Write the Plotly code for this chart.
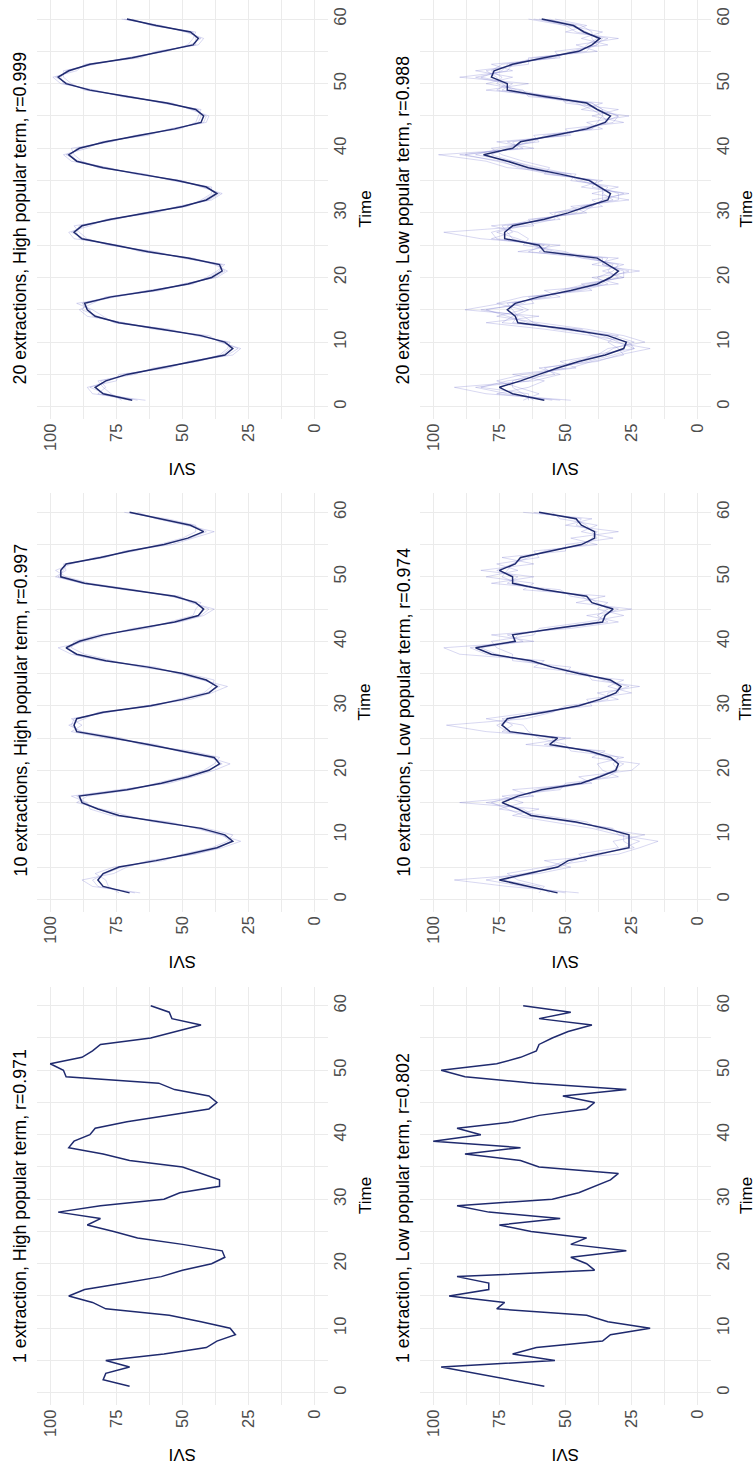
import plotly.graph_objects as go

# Time index (weeks) shared by all panels
TIME = list(range(1, 61))

# Single-extraction SVI series
HIGH_1 = [70, 80, 79, 70, 79, 57, 41, 37, 30, 32, 43, 55, 79, 84, 93, 87, 72, 58, 50, 39,
          34, 35, 50, 67, 76, 86, 81, 97, 81, 57, 51, 36, 36, 43, 50, 70, 80, 93, 91, 85,
          83, 71, 55, 40, 37, 40, 53, 59, 94, 95, 100, 88, 84, 81, 62, 52, 43, 54, 55, 62]
LOW_1 = [58, 71, 84, 97, 54, 70, 61, 36, 33, 18, 34, 42, 76, 73, 94, 79, 79, 91, 39, 42,
         48, 27, 48, 42, 63, 75, 52, 79, 91, 55, 45, 39, 33, 30, 60, 67, 88, 67, 100, 82,
         91, 70, 60, 42, 39, 51, 27, 62, 88, 97, 76, 67, 61, 60, 55, 49, 40, 60, 48, 66]

# Averages over 10 extractions
HIGH_10 = [70, 80, 82, 80, 74, 60, 48, 37, 31, 34, 43, 58, 74, 82, 88, 89, 71, 58, 48, 40,
           36, 38, 50, 63, 76, 90, 91, 90, 80, 62, 50, 40, 37, 41, 50, 63, 79, 90, 94, 89,
           80, 66, 53, 44, 42, 45, 53, 70, 87, 96, 96, 94, 81, 70, 57, 48, 42, 47, 58, 70]
LOW_10 = [53, 64, 75, 64, 53, 49, 38, 26, 26, 26, 35, 46, 63, 68, 74, 68, 59, 44, 37, 31,
          30, 33, 41, 56, 53, 71, 74, 72, 58, 45, 37, 31, 29, 33, 45, 55, 63, 78, 84, 69,
          70, 54, 36, 35, 32, 40, 42, 58, 70, 70, 75, 69, 67, 55, 44, 39, 39, 44, 46, 60]

# Averages over 20 extractions
HIGH_20 = [69, 80, 83, 79, 71, 58, 46, 34, 31, 34, 43, 58, 74, 83, 86, 87, 77, 61, 48, 39,
           35, 36, 48, 63, 76, 88, 91, 88, 77, 63, 50, 41, 37, 41, 52, 66, 80, 90, 93, 89,
           79, 66, 53, 43, 42, 45, 56, 71, 85, 94, 97, 93, 85, 69, 58, 46, 44, 47, 60, 71]
LOW_20 = [58, 70, 75, 67, 60, 53, 45, 35, 28, 27, 34, 49, 68, 69, 72, 69, 60, 48, 38, 33,
          30, 34, 38, 58, 60, 73, 73, 70, 58, 49, 42, 34, 33, 37, 41, 52, 64, 72, 81, 70,
          67, 54, 42, 35, 33, 38, 42, 58, 72, 72, 78, 77, 70, 58, 45, 40, 37, 43, 47, 59]

# Individual extractions drawn behind the averages
HIGH_10_RUNS = [
    [66, 84, 88, 76, 71, 63, 45, 35, 28, 36, 45, 55, 77, 85, 86, 92, 74, 55, 46, 38,
     32, 40, 52, 60, 79, 92, 88, 92, 78, 64, 47, 39, 33, 43, 52, 60, 81, 92, 97, 87,
     78, 69, 51, 42, 38, 47, 51, 72, 88, 98, 94, 95, 79, 72, 54, 46, 38, 49, 60, 67],
    [74, 78, 79, 83, 76, 57, 50, 39, 33, 31, 41, 61, 71, 80, 90, 86, 69, 60, 50, 42,
     38, 36, 47, 66, 73, 88, 93, 87, 82, 60, 52, 42, 39, 38, 48, 66, 77, 87, 92, 91,
     82, 63, 55, 46, 45, 43, 55, 68, 85, 94, 98, 92, 83, 68, 59, 50, 45, 45, 56, 72],
    [68, 82, 84, 79, 73, 61, 46, 36, 32, 35, 44, 57, 75, 82, 87, 90, 72, 57, 47, 41,
     35, 39, 51, 62, 77, 89, 92, 91, 79, 63, 50, 41, 36, 42, 50, 62, 80, 91, 93, 88,
     80, 67, 52, 43, 40, 46, 54, 70, 88, 97, 95, 94, 80, 71, 57, 47, 41, 46, 59, 70],
]
LOW_10_RUNS = [
    [45, 72, 92, 60, 48, 58, 30, 22, 15, 30, 40, 55, 70, 60, 90, 62, 70, 40, 45, 25,
     22, 40, 35, 65, 48, 80, 95, 65, 55, 50, 30, 38, 22, 40, 42, 62, 58, 90, 96, 62,
     78, 48, 30, 42, 25, 46, 35, 66, 62, 80, 68, 76, 60, 62, 38, 48, 30, 50, 40, 66],
    [60, 58, 68, 72, 58, 42, 45, 30, 32, 20, 38, 42, 58, 75, 66, 74, 52, 50, 30, 36,
     38, 28, 48, 50, 60, 64, 66, 80, 62, 40, 42, 25, 34, 28, 50, 48, 70, 70, 76, 78,
     62, 60, 42, 28, 38, 34, 48, 52, 78, 62, 82, 62, 74, 50, 50, 32, 44, 38, 52, 55],
    [50, 66, 80, 66, 52, 47, 40, 24, 28, 28, 33, 48, 66, 72, 78, 70, 56, 42, 38, 32,
     28, 35, 42, 54, 55, 72, 76, 70, 60, 44, 38, 30, 30, 34, 44, 56, 62, 80, 86, 70,
     68, 55, 38, 36, 30, 40, 44, 57, 72, 68, 76, 70, 66, 56, 44, 38, 40, 42, 47, 60],
    [56, 60, 74, 62, 56, 50, 36, 28, 22, 30, 32, 48, 62, 66, 80, 64, 62, 46, 34, 30,
     32, 30, 38, 58, 50, 74, 70, 74, 56, 46, 34, 34, 26, 36, 42, 54, 66, 76, 82, 66,
     72, 52, 34, 38, 34, 38, 42, 60, 68, 74, 72, 70, 64, 58, 42, 40, 38, 46, 44, 62],
]
HIGH_20_RUNS = [
    [64, 84, 86, 75, 74, 55, 48, 31, 28, 36, 40, 61, 72, 86, 89, 84, 79, 58, 50, 37,
     33, 38, 46, 66, 74, 91, 93, 85, 79, 60, 52, 39, 35, 43, 50, 68, 78, 92, 95, 86,
     81, 63, 55, 41, 40, 47, 54, 73, 83, 96, 99, 90, 87, 66, 60, 44, 42, 49, 58, 73],
    [73, 77, 80, 82, 68, 61, 44, 36, 33, 32, 45, 55, 76, 80, 84, 90, 75, 63, 46, 41,
     37, 34, 50, 60, 78, 86, 89, 91, 75, 65, 48, 43, 39, 39, 54, 64, 82, 88, 91, 92,
     77, 68, 51, 45, 44, 43, 58, 69, 87, 92, 95, 95, 83, 71, 56, 48, 46, 45, 62, 69],
    [70, 82, 79, 81, 70, 59, 45, 33, 29, 35, 42, 59, 75, 82, 88, 86, 76, 60, 49, 38,
     34, 37, 49, 62, 77, 87, 92, 87, 78, 62, 51, 40, 36, 42, 51, 67, 79, 89, 94, 88,
     80, 65, 54, 42, 41, 46, 55, 72, 84, 95, 96, 94, 84, 70, 57, 47, 43, 48, 59, 72],
    [67, 79, 85, 78, 72, 57, 47, 35, 32, 33, 44, 57, 73, 84, 85, 88, 78, 62, 47, 40,
     36, 35, 47, 64, 75, 89, 90, 89, 76, 64, 49, 42, 38, 40, 53, 65, 81, 90, 92, 90,
     78, 67, 52, 44, 43, 44, 57, 70, 86, 93, 98, 92, 86, 68, 59, 45, 45, 46, 61, 70],
]
LOW_20_RUNS = [
    [48, 80, 92, 62, 52, 60, 38, 30, 18, 32, 40, 58, 80, 60, 88, 74, 52, 58, 30, 40,
     22, 40, 30, 68, 52, 82, 96, 62, 64, 42, 48, 26, 40, 30, 48, 46, 72, 80, 98, 62,
     76, 48, 50, 28, 40, 30, 50, 52, 80, 64, 90, 70, 78, 52, 54, 34, 44, 36, 50, 64],
    [66, 60, 68, 76, 66, 46, 52, 38, 34, 20, 28, 42, 60, 76, 66, 76, 66, 40, 44, 28,
     36, 28, 44, 50, 66, 64, 68, 78, 52, 56, 36, 40, 26, 44, 36, 58, 56, 66, 74, 78,
     60, 62, 36, 42, 26, 44, 36, 64, 66, 80, 70, 84, 64, 64, 38, 46, 30, 50, 42, 54],
    [55, 72, 84, 64, 58, 54, 42, 32, 24, 30, 36, 50, 64, 72, 80, 66, 62, 46, 36, 34,
     26, 36, 36, 60, 56, 76, 78, 68, 60, 46, 44, 30, 30, 38, 40, 54, 66, 76, 88, 68,
     70, 52, 44, 32, 30, 38, 44, 56, 74, 70, 82, 74, 72, 56, 46, 38, 36, 44, 46, 62],
    [62, 66, 70, 70, 62, 50, 48, 36, 32, 24, 32, 46, 70, 68, 70, 72, 56, 50, 40, 30,
     34, 32, 40, 56, 62, 70, 72, 74, 56, 52, 40, 36, 36, 36, 44, 50, 62, 70, 78, 72,
     64, 56, 40, 38, 36, 36, 40, 60, 70, 74, 76, 80, 68, 60, 44, 42, 38, 42, 48, 56],
    [52, 76, 64, 58, 70, 48, 40, 28, 30, 34, 30, 54, 62, 66, 82, 62, 64, 44, 34, 38,
     32, 30, 42, 64, 58, 78, 70, 72, 62, 44, 40, 36, 28, 40, 38, 56, 68, 74, 90, 66,
     72, 50, 44, 34, 36, 40, 46, 60, 76, 72, 84, 72, 70, 62, 42, 40, 34, 46, 50, 60],
    [64, 64, 82, 72, 54, 58, 44, 40, 24, 26, 40, 44, 74, 70, 64, 70, 58, 52, 42, 28,
     28, 36, 34, 54, 62, 68, 76, 66, 54, 54, 44, 32, 36, 34, 46, 48, 60, 70, 84, 74,
     62, 58, 40, 36, 30, 36, 40, 56, 68, 76, 74, 78, 74, 54, 48, 38, 40, 40, 44, 58],
]

TITLES = [
    "20 extractions, High popular term, r=0.999",
    "20 extractions, Low popular term, r=0.988",
    "10 extractions, High popular term, r=0.997",
    "10 extractions, Low popular term, r=0.974",
    "1 extraction, High popular term, r=0.971",
    "1 extraction, Low popular term, r=0.802",
]
SVI_TICKS = [0, 25, 50, 75, 100]
TIME_TICKS = [0, 10, 20, 30, 40, 50, 60]

# Panels are laid out rotated: SVI runs along x (100 on the left), time runs up
panels = [
    (HIGH_20, HIGH_20_RUNS), (LOW_20, LOW_20_RUNS),
    (HIGH_10, HIGH_10_RUNS), (LOW_10, LOW_10_RUNS),
    (HIGH_1, []), (LOW_1, []),
]

W, H = 755, 1465
COL_X = [(37, 328), (420, 711)]
ROW_Y = [(-0.4, 419.3), (493.3, 911.9), (986.7, 1405.3)]   # top, bottom in px from top
TITLE_BOTTOM = [387, 879, 1365]
SVI_TITLE_Y = [469, 961.6, 1455]
TIME_TITLE_X = [365, 746]
TITLE_X = [20, 403]

MEAN_COLOR = "#1f2a6e"
RUN_COLOR = "rgba(120,120,205,0.36)"
GRID = "#EBEBEB"
FONT = "Liberation Sans, Arial, sans-serif"

fig = go.Figure()
layout = dict(
    width=W, height=H, margin=dict(l=0, r=0, t=0, b=0),
    paper_bgcolor="white", plot_bgcolor="white", showlegend=False,
    font=dict(family=FONT, color="#4D4D4D"),
)
annotations = []

for i, (mean, runs) in enumerate(panels):
    r, c = divmod(i, 2)
    n = i + 1
    xa, ya = f"x{n}", f"y{n}"
    for run in runs:
        fig.add_trace(go.Scatter(x=run, y=TIME, mode="lines", xaxis=xa, yaxis=ya,
                                 line=dict(color=RUN_COLOR, width=0.8), hoverinfo="skip"))
    fig.add_trace(go.Scatter(x=mean, y=TIME, mode="lines", xaxis=xa, yaxis=ya,
                             line=dict(color=MEAN_COLOR, width=1.5)))

    x0, x1 = COL_X[c]
    top, bot = ROW_Y[r]
    layout[f"xaxis{n}"] = dict(
        domain=[x0 / W, x1 / W], anchor=ya, range=[105, -5],
        tickvals=SVI_TICKS, ticktext=[str(v) for v in SVI_TICKS], tickangle=-90,
        tickfont=dict(size=16.5, color="#4D4D4D"), showgrid=True, gridcolor=GRID, gridwidth=1.1,
        minor=dict(dtick=12.5, tick0=0, showgrid=True, gridcolor=GRID, gridwidth=0.6),
        zeroline=False, showline=False, ticks="", fixedrange=True,
    )
    layout[f"yaxis{n}"] = dict(
        domain=[max(0, (H - bot) / H), min(1, (H - top) / H)], anchor=xa, side="right",
        range=[-1.95, 62.95], tickvals=TIME_TICKS, tickangle=-90,
        tickfont=dict(size=16.5, color="#4D4D4D"), showgrid=True, gridcolor=GRID, gridwidth=1.1,
        minor=dict(dtick=5, tick0=0, showgrid=True, gridcolor=GRID, gridwidth=0.6),
        zeroline=False, showline=False, ticks="", fixedrange=True,
    )

    annotations.append(dict(
        text=TITLES[i], textangle=-90, xref="paper", yref="paper",
        x=TITLE_X[c] / W, y=(H - TITLE_BOTTOM[r]) / H, xanchor="center", yanchor="bottom",
        showarrow=False, font=dict(size=17.8, color="black", family=FONT),
    ))
    annotations.append(dict(
        text="SVI", textangle=180, xref="paper", yref="paper",
        x=(x0 + x1) / 2 / W, y=(H - SVI_TITLE_Y[r]) / H, xanchor="center", yanchor="middle",
        showarrow=False, font=dict(size=17, color="black", family=FONT),
    ))
    annotations.append(dict(
        text="Time", textangle=-90, xref="paper", yref="paper",
        x=TIME_TITLE_X[c] / W, y=(H - (top + bot) / 2) / H, xanchor="center", yanchor="middle",
        showarrow=False, font=dict(size=17, color="black", family=FONT),
    ))

layout["annotations"] = annotations
fig.update_layout(**layout)
fig.write_html("out.html")
